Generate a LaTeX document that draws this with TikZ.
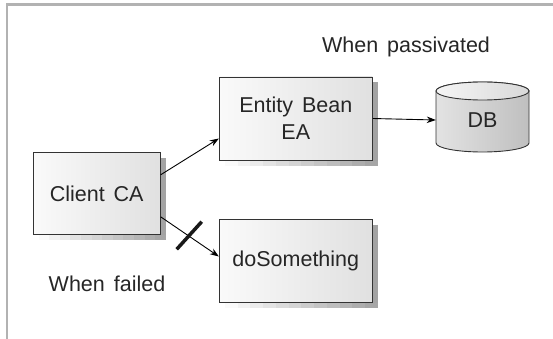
\documentclass[tikz,border=0pt]{standalone}
\usepackage{fontspec}
\setmainfont[WordSpace=1.5]{Liberation Sans}
\usetikzlibrary{arrows.meta}
\begin{document}
\begin{tikzpicture}[x=1pt,y=-1pt,
  box/.style={draw=black!80, line width=0.9pt, left color=gray!4, right color=gray!24,
    minimum width=153pt, minimum height=83pt, inner sep=0pt, align=center,
    text=black!85, font=\fontsize{21.5}{26.7}\selectfont},
  lbl/.style={text=black!85, font=\fontsize{21.5}{26}\selectfont, inner sep=0pt, anchor=base},
  arr/.style={-{Stealth[length=9pt,width=6.5pt]}, line width=0.9pt, black},
  shadowstroke/.style={line width=5pt, line cap=butt},
]
\useasboundingbox (0,0) rectangle (553,339);
\draw[line width=2.5pt, gray!60] (553,4.5) -- (7,4.5) -- (7,339);

% shadows (right strip solid, bottom strip fading from white to grey)
\foreach \xa/\xb/\ya/\yb in {33.2/160.2/152.8/234.8, 219.3/372.3/77/160, 219.3/372.3/219/302}{
  \draw[shadowstroke, gray!72] (\xb+3,\ya+5.5) -- (\xb+3,\yb+5.5);
  \foreach \i [evaluate=\i as \pc using {int(4+\i*6)},
               evaluate=\i as \sa using {\xa+5.5+(\xb-\xa)*\i/12},
               evaluate=\i as \sb using {\xa+5.8+(\xb-\xa)*(\i+1)/12}] in {0,...,11}{
    \draw[shadowstroke, gray!\pc] (\sa,\yb+3) -- (\sb,\yb+3);
  }
}

% boxes
\node[box, minimum width=127pt, minimum height=82pt] (ca) at (96.7,193.8) {Client CA};
\node[box] (ea) at (295.8,118.5) {Entity Bean\\EA};
\node[box] (ds) at (295.8,260.5) {doSomething};

% database cylinder
\path[draw=black!80, line width=0.9pt, left color=gray!22, middle color=gray!3, right color=gray!50]
  (436,91) -- (436,143) arc[start angle=180, end angle=360, x radius=46.5pt, y radius=9pt]
  -- (529,91) arc[start angle=0, end angle=180, x radius=46.5pt, y radius=9pt] -- cycle;
\path[draw=black!80, line width=0.9pt, left color=gray!8, middle color=white, right color=gray!30]
  (482.5,91) ellipse[x radius=46.5pt, y radius=9pt];
\node[minimum width=93pt, minimum height=52pt, inner sep=0pt, text=black!85,
  font=\fontsize{21.5}{26}\selectfont] (db) at (482.5,120) {DB};

% labels
\node[lbl] (lp) at (406,53) {When passivated};
\node[lbl] (lf) at (107,291) {When failed};

% connectors
\draw[arr] ([yshift=19pt]ca.east) -- ([yshift=-20pt]ea.west);
\draw[arr] ([yshift=-23pt]ca.east) -- ([yshift=4pt]ds.west);
\draw[arr] (ea.east) -- (db.west);

% blocking bar
\coordinate (b1) at (176.7,249.3);
\coordinate (b2) at (201.7,221.7);
\draw[line width=3.5pt, black!90] (b1) -- (b2);
\end{tikzpicture}
\end{document}
